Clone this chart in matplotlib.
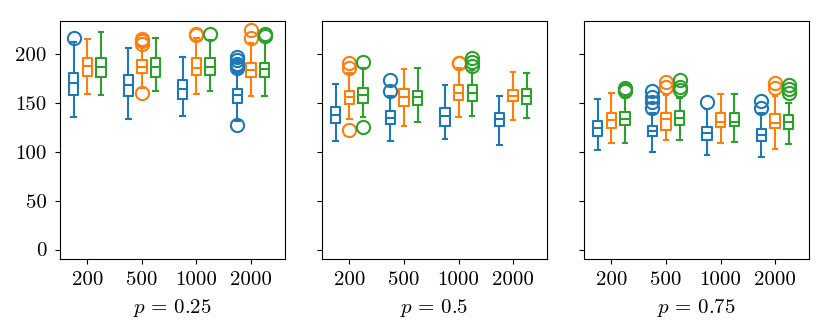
import numpy as np
import matplotlib
matplotlib.use("Agg")
from matplotlib import pyplot as plt

plt.rcParams['font.family'] = 'serif'
plt.rcParams['font.serif'] = ['cmr10']
plt.rcParams['mathtext.fontset'] = 'cm'
plt.rcParams['axes.unicode_minus'] = False
plt.rcParams['font.size'] = 15

sizes = ['200', '500', '1000', '2000']
panel_titles = [r'$p\,=\,0.25$', r'$p\,=\,0.5$', r'$p\,=\,0.75$']
colors = ['#1f77b4', '#ff7f0e', '#2ca02c']

# p = 0.25  (rows: blue, orange, green; columns: sizes)
p025_whislo = [[135.4, 133.7, 137.0, 131.0], [158.8, 165.0, 158.8, 157.5], [158.2, 162.6, 161.6, 157.5]]
p025_q1 = [[158.2, 157.5, 154.0, 149.7], [177.5, 180.3, 178.6, 176.2], [176.2, 176.9, 178.0, 176.9]]
p025_med = [[170.0, 168.4, 164.0, 158.2], [188.0, 187.0, 185.4, 183.7], [186.4, 187.0, 187.0, 184.7]]
p025_q3 = [[180.3, 178.6, 173.5, 164.0], [195.6, 193.9, 195.6, 190.5], [196.3, 195.6, 195.6, 191.2]]
p025_whishi = [[212.6, 205.8, 197.3, 182.0], [215.3, 207.5, 216.0, 210.9], [222.8, 216.0, 214.0, 212.6]]
p025_fliers = [[[216.7], [], [], [197.3, 194.0, 190.0, 188.0, 186.0, 127.6]],
               [[], [210.0, 213.0, 215.0, 160.0], [219.0, 220.0], [224.5, 216.0]],
               [[], [], [220.0], [220.0, 218.0]]]

# p = 0.5
p05_whislo = [[111.2, 110.5, 113.3, 107.0], [133.3, 126.5, 135.4, 132.7], [136.0, 130.9, 136.7, 134.4]]
p05_q1 = [[129.2, 128.6, 126.5, 126.5], [149.0, 147.0, 152.4, 151.4], [150.3, 147.3, 152.0, 149.0]]
p05_med = [[137.8, 134.4, 136.7, 133.3], [155.8, 155.8, 160.5, 157.0], [158.2, 155.8, 160.5, 156.5]]
p05_q3 = [[145.6, 141.2, 144.6, 140.1], [162.6, 164.0, 168.4, 163.3], [165.0, 162.6, 168.4, 164.0]]
p05_whishi = [[169.0, 156.5, 168.4, 156.5], [180.3, 184.4, 185.4, 182.0], [185.4, 185.4, 183.7, 180.3]]
p05_fliers = [[[], [173.5, 162.6], [], []],
              [[190.5, 185.4, 121.8], [], [191.0, 190.5], []],
              [[192.2, 125.2], [], [195.6, 192.2, 188.0], []]]

# p = 0.75
p075_whislo = [[102.0, 99.7, 97.0, 94.6], [108.8, 111.5, 108.8, 103.0], [108.8, 111.5, 109.5, 108.2]]
p075_q1 = [[116.3, 115.6, 112.2, 110.5], [124.1, 121.8, 125.2, 124.1], [127.6, 127.6, 125.9, 123.1]]
p075_med = [[124.1, 121.4, 119.0, 117.3], [132.7, 133.3, 130.9, 129.3], [133.3, 134.4, 130.9, 130.9]]
p075_q3 = [[131.6, 126.5, 125.2, 123.1], [139.5, 140.1, 140.1, 138.8], [140.5, 141.2, 140.1, 137.8]]
p075_whishi = [[153.7, 139.5, 144.0, 139.5], [160.5, 158.2, 158.8, 156.5], [154.8, 154.8, 159.2, 150.3]]
p075_fliers = [[[], [161.6, 155.8, 150.7, 145.2], [150.7], [152.0, 144.6]],
               [[], [171.8, 166.7], [], [170.7, 165.0]],
               [[165.3, 163.3, 161.6], [173.5, 166.7, 163.3], [], [168.4, 164.0, 160.0]]]

panels = [
    (p025_whislo, p025_q1, p025_med, p025_q3, p025_whishi, p025_fliers),
    (p05_whislo, p05_q1, p05_med, p05_q3, p05_whishi, p05_fliers),
    (p075_whislo, p075_q1, p075_med, p075_q3, p075_whishi, p075_fliers),
]

fig, axes = plt.subplots(1, 3, figsize=(8.3, 3.34), dpi=100, sharey=True)
fig.subplots_adjust(left=0.0723, right=0.975, top=0.938, bottom=0.2237, wspace=0.164)

pos = np.arange(1, len(sizes) + 1)
offsets = [-0.25, 0.0, 0.25]

for ax, title, (wlo, q1, med, q3, whi, fl) in zip(axes, panel_titles, panels):
    for k, c in enumerate(colors):
        stats = []
        for j in range(len(sizes)):
            stats.append(dict(whislo=wlo[k][j], q1=q1[k][j], med=med[k][j],
                              q3=q3[k][j], whishi=whi[k][j], fliers=fl[k][j]))
        ax.bxp(stats, positions=pos + offsets[k], widths=0.17, manage_ticks=False,
               boxprops=dict(color=c, lw=1.5),
               whiskerprops=dict(color=c, lw=1.5),
               capprops=dict(color=c, lw=1.5),
               medianprops=dict(color=c, lw=1.5),
               flierprops=dict(marker='o', markerfacecolor='none', markeredgecolor=c,
                               markersize=9.5, markeredgewidth=1.5))
    ax.set_xticks(pos)
    ax.set_xticklabels(sizes)
    ax.set_xlim(0.5, 4.625)
    ax.set_xlabel(title, labelpad=6)
    ax.tick_params(axis='x', length=3.5, pad=5)
    ax.tick_params(axis='y', length=3.5, pad=6)

axes[0].set_ylim(-10, 234)
axes[0].set_yticks([0, 50, 100, 150, 200])

plt.savefig('out.png', dpi=100)
